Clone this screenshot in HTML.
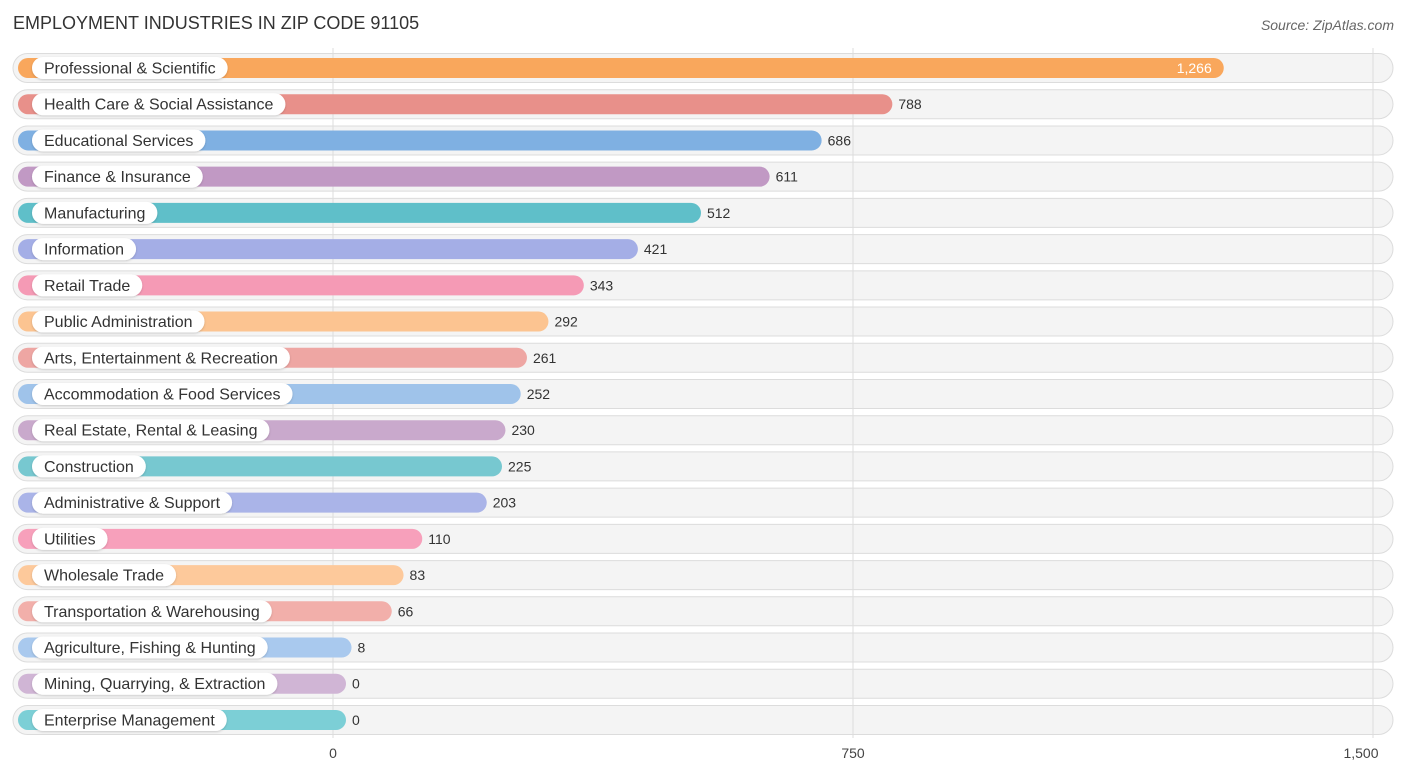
<!DOCTYPE html>
<html><head><meta charset="utf-8"><style>
body{margin:0;background:#fff;font-family:"Liberation Sans",sans-serif;}
#c{position:absolute;left:0;top:0;}
</style></head><body>
<svg id="c" width="1406" height="776" xmlns="http://www.w3.org/2000/svg">
<defs><filter id="sh" x="-5%" y="-30%" width="110%" height="160%"><feDropShadow dx="0" dy="1" stdDeviation="1" flood-color="#000" flood-opacity="0.18"/></filter></defs>
<text x="13" y="29" font-size="18" fill="#333">EMPLOYMENT INDUSTRIES IN ZIP CODE 91105</text>
<text x="1394" y="30" font-size="14" font-style="italic" fill="#666" text-anchor="end">Source: ZipAtlas.com</text>
<g id="bgs"></g><g id="grid"></g><g id="rows"></g><g id="ticks"></g>
</svg>
<script>
const categories=["Professional & Scientific","Health Care & Social Assistance","Educational Services","Finance & Insurance","Manufacturing","Information","Retail Trade","Public Administration","Arts, Entertainment & Recreation","Accommodation & Food Services","Real Estate, Rental & Leasing","Construction","Administrative & Support","Utilities","Wholesale Trade","Transportation & Warehousing","Agriculture, Fishing & Hunting","Mining, Quarrying, & Extraction","Enterprise Management"];
const values=[1266,788,686,611,512,421,343,292,261,252,230,225,203,110,83,66,8,0,0];
const colors=["#f9a75c","#e8908a","#7fb0e2","#c199c4","#5fbfc9","#a4aee6","#f59ab5","#fcc491","#eea6a3","#9fc3ea","#c9a9cc","#77c8d0","#aab4e8","#f7a0bb","#fdc99b","#f2afaa","#a9c9ee","#d0b5d5","#7ccfd6"];
const tickVals=[0,750,1500];
const tickLabels=["0","750","1,500"];
const NS="http://www.w3.org/2000/svg";
const x=v=>333+v*520/750;
const y=i=>68+i*36.22;
function mk(t,a,p){const e=document.createElementNS(NS,t);for(const k in a)e.setAttribute(k,a[k]);p.appendChild(e);return e;}
const bgs=document.getElementById('bgs'),grid=document.getElementById('grid'),rows=document.getElementById('rows'),ticks=document.getElementById('ticks');
tickVals.forEach((v,i)=>{
 const l=mk('line',{x1:x(v),x2:x(v),y1:48,y2:738,stroke:'#ddd','stroke-width':1},grid);
 
 
 const t=mk('text',{x:x(v)-(i==2?12:0),y:758,'font-size':14,fill:'#444','text-anchor':'middle'},ticks);
 t.textContent=tickLabels[i];
 
 
});
categories.forEach((c,i)=>{
 const cy=y(i);
 const bg=mk('rect',{x:13,y:cy-14.5,width:1380,height:29,rx:14.5,fill:'#f4f4f4',stroke:'#dcdcdc','stroke-width':1},bgs);
 
 
 const g=mk('g',{},rows);
 
 
 const end=x(values[i])+13;
 const b=mk('rect',{x:18,y:cy-10,width:end-18,height:20,rx:10,fill:colors[i]},g);
 
 
 const p=mk('rect',{x:32,y:cy-11,width:100,height:22,rx:11,fill:'#fff',filter:'url(#sh)'},g);
 
 
 const t=mk('text',{x:44,y:cy+5.5,'font-size':16,fill:'#333'},g);
 t.textContent=c;
 
 
 p.setAttribute('width',t.getComputedTextLength()+24);
 const inside=i==0;
 const vt=mk('text',{x:inside?end-12:end+6,y:cy+5,'font-size':14,fill:inside?'#fff':'#333','text-anchor':inside?'end':'start'},g);
 vt.textContent=values[i].toLocaleString('en-US');
 
 
});
</script>
</body></html>
